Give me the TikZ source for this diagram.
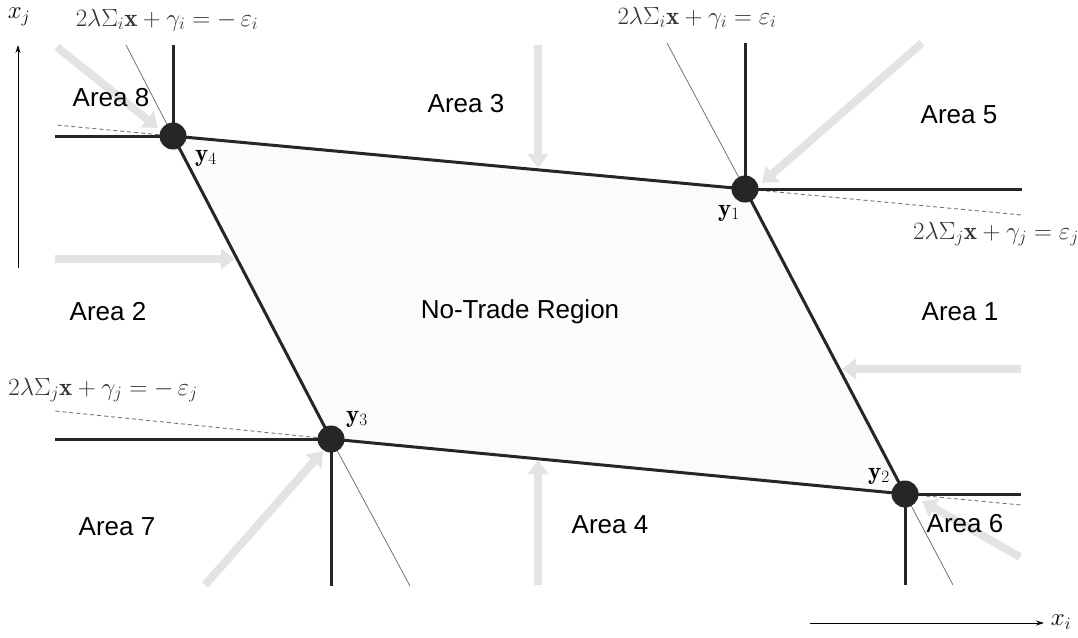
\documentclass[tikz,border=0pt]{standalone}
\usepackage{fontspec}
\setsansfont{Liberation Sans}
\usetikzlibrary{arrows.meta}
\begin{document}
\begin{tikzpicture}[x=1pt,y=-1pt,
  edge/.style={line width=3pt, black!85},
  thinext/.style={line width=0.8pt, black!55},
  dashext/.style={line width=0.9pt, black!55, dash pattern=on 4pt off 3pt},
  vdot/.style={circle, fill=black!85, inner sep=0pt, minimum size=27pt},
  area/.style={font=\sffamily\fontsize{26}{30}\selectfont},
  eqn/.style={font=\fontsize{25}{29}\selectfont, text=black!80},
  vlab/.style={font=\fontsize{25}{29}\selectfont},
  garrow/.style={line width=8pt, black!11, -{Triangle[length=14pt,width=20pt]}},
  axisarrow/.style={line width=0.8pt, -{Stealth[length=8pt,width=5pt]}}
]
\useasboundingbox (0,0) rectangle (1078,637);

% vertices
\coordinate (v4) at (173,136);
\coordinate (v1) at (745,189);
\coordinate (v3) at (331,439);
\coordinate (v2) at (905,494);

% free ends
\coordinate (s4l) at (55,136);
\coordinate (s4u) at (173,45);
\coordinate (s1u) at (745,43);
\coordinate (s1r) at (1022,189);
\coordinate (s3l) at (55,439);
\coordinate (s3d) at (331,586);
\coordinate (s2r) at (1021,494);
\coordinate (s2d) at (905,585);

\coordinate (t4) at (126,45);
\coordinate (t3) at (410,586);
\coordinate (t1) at (667,43);
\coordinate (t2) at (953,585);

\coordinate (d4) at (56,125);
\coordinate (d1) at (1022,215);
\coordinate (d3) at (55,411);
\coordinate (d2) at (1021,505);

% faint region fill
\fill[black!1.5] (v4) -- (v1) -- (v2) -- (v3) -- cycle;

% gray arrows
\coordinate (a3s) at (538,45);   \coordinate (a3e) at (538,168);
\coordinate (a2s) at (55,259);   \coordinate (a2e) at (235,259);
\coordinate (a4s) at (538,585);  \coordinate (a4e) at (538,460);
\coordinate (a1s) at (1021,369); \coordinate (a1e) at (842,369);
\coordinate (a8s) at (57,47);    \coordinate (a8e) at (158,128);
\coordinate (a5s) at (922,43);   \coordinate (a5e) at (762,183);
\coordinate (a7s) at (205,585);  \coordinate (a7e) at (323,451);
\coordinate (a6s) at (1020,557); \coordinate (a6e) at (922,501);
\foreach \n in {3,2,4,1,8,5,7,6} \draw[garrow] (a\n s) -- (a\n e);

% extension lines
\draw[thinext] (v4) -- (t4);
\draw[thinext] (v3) -- (t3);
\draw[thinext] (v1) -- (t1);
\draw[thinext] (v2) -- (t2);
\draw[dashext] (v4) -- (d4);
\draw[dashext] (v1) -- (d1);
\draw[dashext] (v3) -- (d3);
\draw[dashext] (v2) -- (d2);

% stubs
\draw[edge] (v4) -- (s4l);
\draw[edge] (v4) -- (s4u);
\draw[edge] (v1) -- (s1u);
\draw[edge] (v1) -- (s1r);
\draw[edge] (v3) -- (s3l);
\draw[edge] (v3) -- (s3d);
\draw[edge] (v2) -- (s2r);
\draw[edge] (v2) -- (s2d);

% parallelogram
\draw[edge, line join=round] (v4) -- (v1) -- (v2) -- (v3) -- cycle;

% dots
\node[vdot] (p4) at (v4) {};
\node[vdot] (p1) at (v1) {};
\node[vdot] (p3) at (v3) {};
\node[vdot] (p2) at (v2) {};

% vertex labels
\node[vlab] (l4) at (206,158) {$\mathbf{y}_4$};
\node[vlab] (l1) at (729,213) {$\mathbf{y}_1$};
\node[vlab] (l3) at (357,419) {$\mathbf{y}_3$};
\node[vlab] (l2) at (879,476) {$\mathbf{y}_2$};

% equation labels
\node[eqn] (e1) at (167,20) {$2\lambda\Sigma_i\mathbf{x}+\gamma_i=-\,\varepsilon_i$};
\node[eqn] (e2) at (697,18) {$2\lambda\Sigma_i\mathbf{x}+\gamma_i=\varepsilon_i$};
\node[eqn] (e3) at (996,234) {$2\lambda\Sigma_j\mathbf{x}+\gamma_j=\varepsilon_j$};
\node[eqn] (e4) at (103,390) {$2\lambda\Sigma_j\mathbf{x}+\gamma_j=-\,\varepsilon_j$};

% area labels
\node[area] (A8) at (111,98) {Area 8};
\node[area] (A3) at (466,104) {Area 3};
\node[area] (A5) at (959,115) {Area 5};
\node[area] (A2) at (108,312) {Area 2};
\node[area] (NT) at (520,312) {No-Trade Region};
\node[area] (A1) at (960,312) {Area 1};
\node[area] (A7) at (117,527) {Area 7};
\node[area] (A4) at (610,525) {Area 4};
\node[area] (A6) at (965,524) {Area 6};

% axes
\coordinate (yb) at (18,268);
\coordinate (yt) at (18,45);
\draw[axisarrow] (yb) -- (yt);
\node[eqn, text=black] (xj) at (19,17) {$x_j$};
\coordinate (xl) at (810,623);
\coordinate (xr) at (1044,623);
\draw[axisarrow] (xl) -- (xr);
\node[eqn, text=black] (xi) at (1061,622) {$x_i$};
\end{tikzpicture}
\end{document}
